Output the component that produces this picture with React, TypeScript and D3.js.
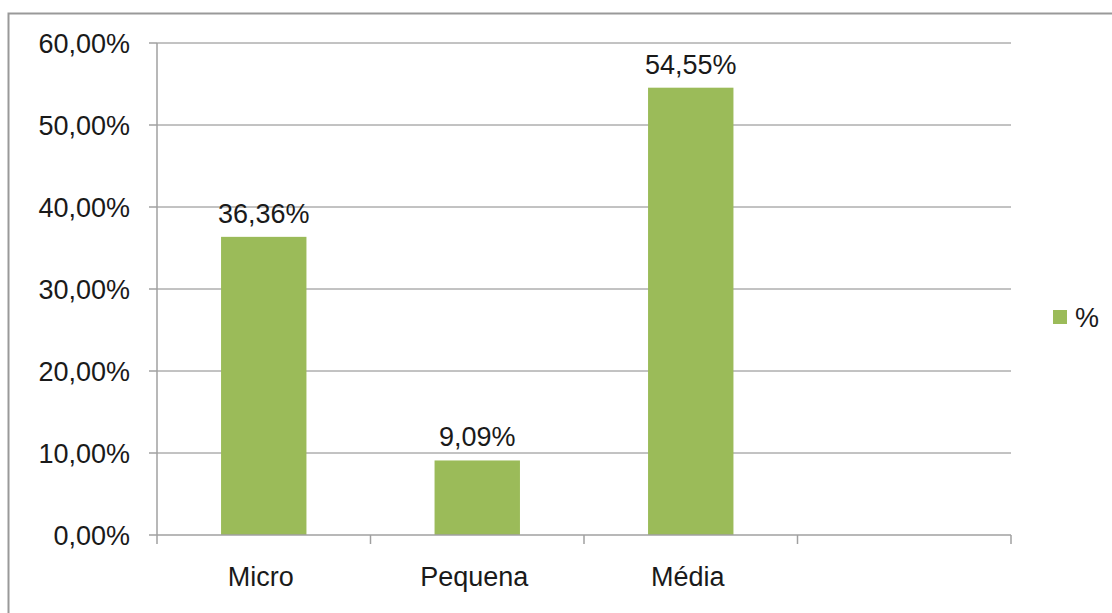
import React from "react";
import * as d3 from "d3";

const categories = ["Micro", "Pequena", "Média", ""];
const values = [36.36, 9.09, 54.55, null as number | null];
const valueLabels = ["36,36%", "9,09%", "54,55%", ""];
const yTicks = [0, 10, 20, 30, 40, 50, 60];
const yTickLabels = ["0,00%", "10,00%", "20,00%", "30,00%", "40,00%", "50,00%", "60,00%"];
const legendLabel = "%";

export default function App() {
  const W = 1112, H = 613;
  const left = 157, right = 1011, top = 43, bottom = 535;
  const x = d3.scaleBand<string>().domain(categories.map((c, i) => String(i))).range([left, right]).padding(0);
  const y = d3.scaleLinear().domain([0, 60]).range([bottom, top]);
  const bw = x.bandwidth() * 0.4;
  const font = "Arial, 'Liberation Sans', sans-serif";
  const fs = 27;
  const txt = "#1a1a1a";
  const boundaries = categories.map((_, i) => x(String(i))!).concat([right]);
  return (
    <svg width={W} height={H} style={{ position: "absolute", left: 0, top: 0, background: "#fff" }} fontFamily={font}>
      <rect x={8.5} y={13.5} width={W + 10} height={H + 10} fill="#fff" stroke="#999" strokeWidth={2} />
      {yTicks.map((t, i) => (
        <g key={i}>
          {t > 0 && <line x1={left} x2={right} y1={y(t)} y2={y(t)} stroke="#868686" strokeWidth={1} />}
          <line x1={left - 8} x2={left} y1={y(t)} y2={y(t)} stroke="#a0a0a0" strokeWidth={1.5} />
          <text x={130} y={y(t)} dy="0.36em" textAnchor="end" fontSize={fs} fill={txt}>{yTickLabels[i]}</text>
        </g>
      ))}
      <line x1={left} x2={left} y1={top} y2={bottom} stroke="#a0a0a0" strokeWidth={1.5} />
      {values.map((v, i) => v == null ? null : (
        <g key={i}>
          <rect x={x(String(i))! + (x.bandwidth() - bw) / 2} y={y(v)} width={bw} height={y(0) - y(v)} fill="#9bbb59" />
          <text x={x(String(i))! + x.bandwidth() / 2} y={y(v) - 14} textAnchor="middle" fontSize={fs} fill={txt}>{valueLabels[i]}</text>
        </g>
      ))}
      <line x1={left} x2={right} y1={bottom} y2={bottom} stroke="#a0a0a0" strokeWidth={1.5} />
      {boundaries.map((bx, i) => (
        <line key={i} x1={bx} x2={bx} y1={bottom} y2={bottom + 9} stroke="#a0a0a0" strokeWidth={1.5} />
      ))}
      {categories.map((c, i) => (
        <text key={i} x={x(String(i))! + x.bandwidth() / 2 - 3} y={586} textAnchor="middle" fontSize={fs} fill={txt}>{c}</text>
      ))}
      <rect x={1053} y={310} width={14} height={14} fill="#9bbb59" />
      <text x={1075} y={327} fontSize={fs} fill={txt}>{legendLabel}</text>
    </svg>
  );
}
